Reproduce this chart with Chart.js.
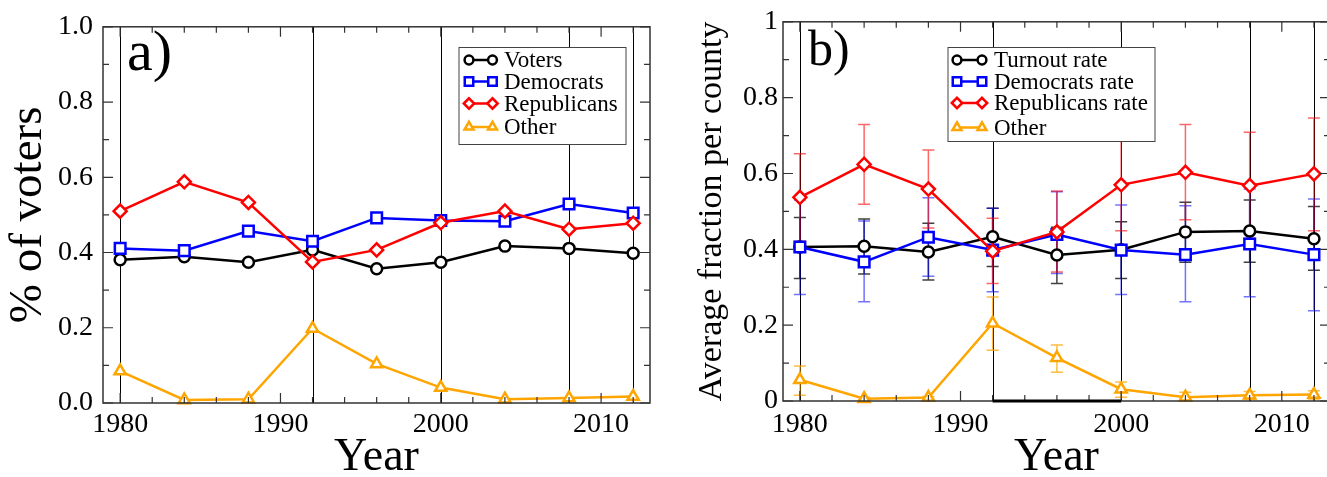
<!DOCTYPE html>
<html>
<head>
<meta charset="utf-8">
<script src="https://cdn.jsdelivr.net/npm/chart.js@4.4.0/dist/chart.umd.min.js"></script>
<style>
  body { margin: 0; background: #fff; overflow: hidden; width: 1327px; height: 477px; position: relative; }
  canvas { position: absolute; top: 0; }
  #chartA { left: 0; }
  #chartB { left: 660px; }
</style>
</head>
<body>
<canvas id="chartA" width="660" height="477"></canvas>
<canvas id="chartB" width="680" height="477"></canvas>
<script>
const years = [1980, 1984, 1988, 1992, 1996, 2000, 2004, 2008, 2012];
const gridYears = [1980, 1992, 2000, 2008, 2012];
const xTickLabels = ['1980', '1990', '2000', '2010'];
const yTickLabelsA = ['0.0', '0.2', '0.4', '0.6', '0.8', '1.0'];
const yTickLabelsB = ['0', '0.2', '0.4', '0.6', '0.8', '1'];

// a) share of voters
const votersA      = [0.381, 0.389, 0.374, 0.407, 0.357, 0.374, 0.417, 0.411, 0.398];
const democratsA   = [0.411, 0.405, 0.457, 0.430, 0.492, 0.485, 0.483, 0.529, 0.505];
const republicansA = [0.510, 0.588, 0.533, 0.375, 0.407, 0.479, 0.510, 0.462, 0.478];
const otherA       = [0.085, 0.008, 0.010, 0.198, 0.104, 0.041, 0.010, 0.013, 0.017];

// b) average fraction per county, with spread
const turnoutB     = [0.406, 0.408, 0.393, 0.433, 0.385, 0.399, 0.446, 0.448, 0.428];
const turnoutLo    = [0.323, 0.335, 0.319, 0.355, 0.310, 0.323, 0.366, 0.366, 0.345];
const turnoutHi    = [0.484, 0.480, 0.469, 0.508, 0.458, 0.473, 0.524, 0.530, 0.513];
const democratsB   = [0.406, 0.367, 0.432, 0.398, 0.439, 0.398, 0.386, 0.414, 0.386];
const democratsLo  = [0.281, 0.262, 0.329, 0.288, 0.336, 0.281, 0.262, 0.275, 0.238];
const democratsHi  = [0.530, 0.475, 0.536, 0.508, 0.552, 0.517, 0.515, 0.559, 0.533];
const republicansB = [0.537, 0.624, 0.559, 0.395, 0.446, 0.570, 0.603, 0.568, 0.599];
const republicansLo = [0.421, 0.519, 0.456, 0.310, 0.340, 0.449, 0.478, 0.429, 0.449];
const republicansHi = [0.652, 0.729, 0.662, 0.482, 0.554, 0.689, 0.729, 0.709, 0.746];
const otherB       = [0.056, 0.006, 0.009, 0.205, 0.114, 0.031, 0.010, 0.015, 0.017];
const otherLo      = [0.015, 0.003, 0.005, 0.134, 0.076, 0.010, 0.000, 0.005, 0.005];
const otherHi      = [0.092, 0.010, 0.012, 0.274, 0.148, 0.050, 0.023, 0.025, 0.027];

const serif = "'Liberation Serif', 'DejaVu Serif', serif";
Chart.defaults.font.family = serif;
Chart.defaults.color = '#000';

function series(label, values, color, style, radius, order) {
    return {
        label: label,
        data: years.map((yr, i) => ({ x: yr, y: values[i] })),
        borderColor: color,
        backgroundColor: color,
        borderWidth: 2.5,
        pointStyle: style,
        pointRadius: radius,
        pointHoverRadius: radius,
        pointBorderWidth: 2.5,
        pointBorderColor: color,
        pointBackgroundColor: '#fff',
        tension: 0,
        clip: false,
        order: order
    };
}

// frame, inward ticks, grid lines, error bars, legend box and panel letter
function makeDecor(cfg) {
    return {
        id: 'decor',
        beforeDatasetsDraw(chart) {
            const ctx = chart.ctx, a = chart.chartArea;
            const x = chart.scales.x, y = chart.scales.y;
            ctx.save();
            ctx.strokeStyle = '#000';
            ctx.lineWidth = 1;
            gridYears.forEach(v => {
                const px = Math.round(x.getPixelForValue(v)) + 0.5;
                ctx.beginPath();
                ctx.moveTo(px, a.top);
                ctx.lineTo(px, a.bottom);
                ctx.stroke();
            });
            (cfg.errors || []).forEach(e => {
                ctx.strokeStyle = e.color;
                ctx.lineWidth = 1.5;
                years.forEach((yr, i) => {
                    const px = x.getPixelForValue(yr);
                    const top = y.getPixelForValue(e.hi[i]);
                    const bot = y.getPixelForValue(e.lo[i]);
                    ctx.beginPath();
                    ctx.moveTo(px, top); ctx.lineTo(px, bot);
                    ctx.moveTo(px - 6, top); ctx.lineTo(px + 6, top);
                    ctx.moveTo(px - 6, bot); ctx.lineTo(px + 6, bot);
                    ctx.stroke();
                });
            });
            ctx.restore();
        },
        afterDatasetsDraw(chart) {
            const ctx = chart.ctx, a = chart.chartArea;
            const x = chart.scales.x, y = chart.scales.y;
            ctx.save();
            ctx.strokeStyle = '#333';
            ctx.lineWidth = 1.5;
            ctx.strokeRect(a.left, a.top, a.right - a.left, a.bottom - a.top);
            ctx.lineWidth = 1.2;
            ctx.beginPath();
            for (let v = 1980; v <= x.max; v += 2) {
                const px = x.getPixelForValue(v);
                const len = v % 10 === 0 ? 10 : 6;
                ctx.moveTo(px, a.bottom); ctx.lineTo(px, a.bottom - len);
                ctx.moveTo(px, a.top); ctx.lineTo(px, a.top + len);
            }
            for (let k = 0; k <= 10; k++) {
                const py = y.getPixelForValue(k / 10);
                const len = k % 2 === 0 ? 10 : 6;
                ctx.moveTo(a.left, py); ctx.lineTo(a.left + len, py);
                ctx.moveTo(a.right, py); ctx.lineTo(a.right - len, py);
            }
            ctx.stroke();
            if (cfg.thick) {
                ctx.strokeStyle = '#000';
                ctx.lineWidth = 3;
                ctx.beginPath();
                ctx.moveTo(x.getPixelForValue(cfg.thick[0]), a.bottom);
                ctx.lineTo(x.getPixelForValue(cfg.thick[1]), a.bottom);
                ctx.stroke();
            }
            ctx.restore();
        },
        afterDraw(chart) {
            const ctx = chart.ctx;
            const lg = cfg.legend;
            ctx.save();
            ctx.fillStyle = '#000';
            ctx.font = cfg.tagSize + 'px ' + serif;
            ctx.textBaseline = 'alphabetic';
            ctx.fillText(cfg.tag, cfg.tagX, cfg.tagY);

            ctx.fillStyle = '#fff';
            ctx.fillRect(lg.x, lg.y, lg.w, lg.h);
            ctx.strokeStyle = '#444';
            ctx.lineWidth = 1;
            ctx.strokeRect(lg.x + 0.5, lg.y + 0.5, lg.w, lg.h);
            ctx.font = lg.size + 'px ' + serif;
            ctx.textBaseline = 'middle';
            chart.data.datasets.forEach((ds, i) => {
                const cy = lg.rows[i];
                ctx.strokeStyle = ds.borderColor;
                ctx.lineWidth = 2.5;
                ctx.beginPath();
                ctx.moveTo(lg.s1, cy); ctx.lineTo(lg.s2, cy);
                ctx.stroke();
                ctx.fillStyle = '#fff';
                const opt = { pointStyle: ds.pointStyle, radius: ds.pointRadius * 0.8, borderWidth: 2.5, rotation: 0 };
                Chart.helpers.drawPoint(ctx, opt, lg.s1, cy);
                Chart.helpers.drawPoint(ctx, opt, lg.s2, cy);
                ctx.fillStyle = '#000';
                ctx.fillText(ds.label, lg.tx, cy + 1);
            });
            ctx.restore();
        }
    };
}

function makeChart(id, datasets, o) {
    new Chart(document.getElementById(id), {
        type: 'line',
        data: { datasets: datasets },
        options: {
            responsive: false,
            animation: false,
            events: [],
            layout: { padding: { top: o.top, right: o.right, left: 0, bottom: 0 } },
            plugins: { legend: { display: false }, tooltip: { enabled: false } },
            scales: {
                x: {
                    type: 'linear',
                    min: o.xMin,
                    max: o.xMax,
                    grid: { display: false, drawTicks: false },
                    border: { display: false },
                    ticks: {
                        stepSize: 10,
                        includeBounds: false,
                        autoSkip: false,
                        maxRotation: 0,
                        padding: o.xPad,
                        font: { family: serif, size: 28 },
                        callback: v => xTickLabels.includes(String(v)) ? String(v) : ''
                    },
                    title: { display: true, text: 'Year', font: { family: serif, size: 46, lineHeight: 0.83 }, padding: 0 },
                    afterFit: s => { s.height = o.xHeight; }
                },
                y: {
                    min: 0,
                    max: 1,
                    grid: { display: false, drawTicks: false },
                    border: { display: false },
                    ticks: {
                        stepSize: 0.2,
                        padding: o.yPad,
                        font: { family: serif, size: 28 },
                        callback: (v, i) => o.yLabels[i]
                    },
                    title: {
                        display: true,
                        text: o.yTitle,
                        font: { family: serif, size: o.yTitleSize, lineHeight: 1 },
                        padding: { top: o.yTitlePad, bottom: 0 }
                    },
                    afterFit: s => { s.width = o.yWidth; }
                }
            }
        },
        plugins: [makeDecor(o.decor)]
    });
}

makeChart('chartA', [
    series('Voters', votersA, '#000000', 'circle', 5.5, 4),
    series('Democrats', democratsA, '#0000ff', 'rect', 7.5, 3),
    series('Republicans', republicansA, '#ff0000', 'rectRot', 6.5, 2),
    series('Other', otherA, '#ffa500', 'triangle', 6.5, 1)
], {
    top: 19.5, right: 10, xMin: 1978.93, xMax: 2013.05, xPad: 5, xHeight: 74,
    yPad: 10, yWidth: 103, yLabels: yTickLabelsA,
    yTitle: '% of voters', yTitleSize: 47, yTitlePad: 5.5,
    decor: {
        tag: 'a)', tagSize: 58, tagX: 127, tagY: 70,
        legend: { x: 458.5, y: 47, w: 167, h: 97, rows: [60, 81.5, 103.5, 127], s1: 469, s2: 492.5, tx: 504, size: 23 }
    }
});

makeChart('chartB', [
    series('Turnout rate', turnoutB, '#000000', 'circle', 5.5, 4),
    series('Democrats rate', democratsB, '#0000ff', 'rect', 7.5, 3),
    series('Republicans rate', republicansB, '#ff0000', 'rectRot', 6.5, 2),
    series('Other', otherB, '#ffa500', 'triangle', 6.5, 1)
], {
    top: 18.5, right: 10, xMin: 1978.95, xMax: 2013.0, xPad: 7, xHeight: 76,
    yPad: 5, yWidth: 123, yLabels: yTickLabelsB,
    yTitle: 'Average fraction per county', yTitleSize: 34, yTitlePad: 35.5,
    decor: {
        tag: 'b)', tagSize: 50, tagX: 148, tagY: 65,
        thick: [1992, 2000],
        errors: [
            { lo: turnoutLo, hi: turnoutHi, color: 'rgba(0,0,0,0.75)' },
            { lo: democratsLo, hi: democratsHi, color: 'rgba(0,0,255,0.55)' },
            { lo: republicansLo, hi: republicansHi, color: 'rgba(255,0,0,0.6)' },
            { lo: otherLo, hi: otherHi, color: 'rgba(255,165,0,0.75)' }
        ],
        legend: { x: 287.5, y: 47, w: 207, h: 94, rows: [60, 81.5, 103, 127.5], s1: 297, s2: 322, tx: 334, size: 23 }
    }
});
</script>
</body>
</html>
